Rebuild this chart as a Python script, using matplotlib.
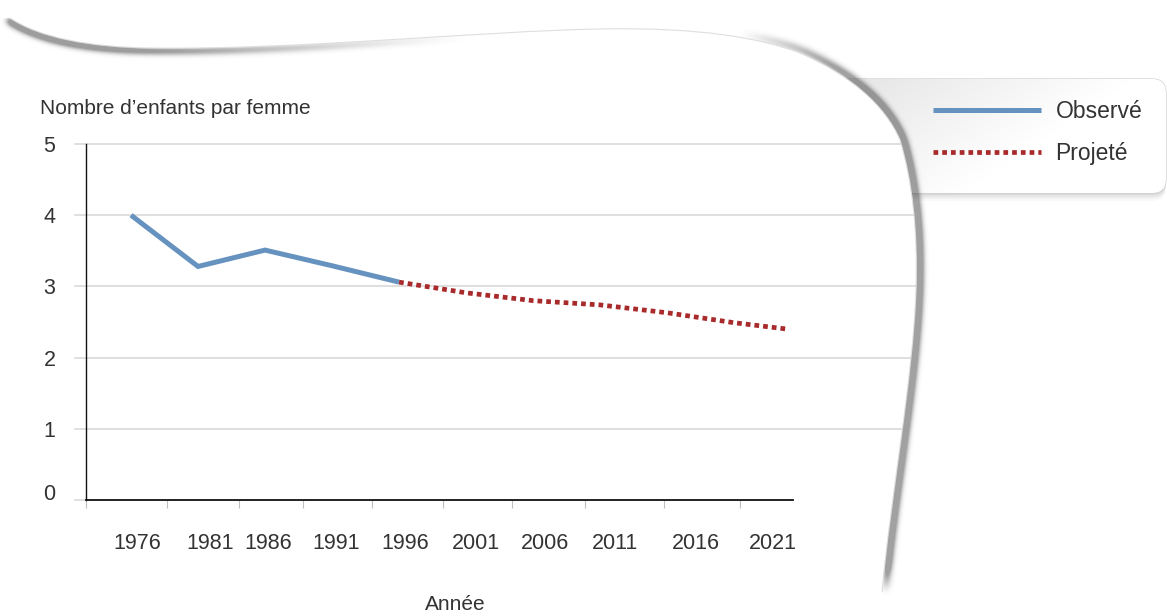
import numpy as np
import matplotlib
matplotlib.use('Agg')
import matplotlib.pyplot as plt
from matplotlib.path import Path
from matplotlib.patches import PathPatch, FancyBboxPatch
from matplotlib.transforms import ScaledTranslation

plt.rcParams['font.family'] = ['Liberation Sans', 'DejaVu Sans']

# ---------------------------------------------------------------------
# Données : indice synthétique de fécondité
# ---------------------------------------------------------------------
annees_obs = [1976, 1981, 1986, 1991, 1996]
valeurs_obs = [4.00, 3.28, 3.51, 3.29, 3.06]

annees_proj = [1996, 2001, 2006, 2011, 2016, 2021, 2025]
valeurs_proj = [3.06, 2.91, 2.80, 2.74, 2.63, 2.49, 2.40]

etiquettes_x = ['1976', '1981', '1986', '1991', '1996',
                '2001', '2006', '2011', '2016', '2021']
pos_etiquettes = [1976.5, 1981.9, 1986.2, 1991.3, 1996.45,
                  2001.75, 2006.9, 2012.1, 2018.15, 2023.9]
pos_graduations = [1972.65, 1978.7, 1984.05, 1988.85, 1994.0,
                   1999.3, 2004.45, 2009.9, 2015.8, 2021.45]
niveaux_y = [0, 1, 2, 3, 4, 5]

BLEU = '#6692bf'
ROUGE = '#a82a2a'
TEXTE = '#333333'
GRILLE = '#d6d6d6'

W, H = 1167, 616
fig = plt.figure(figsize=(W / 100, H / 100), dpi=100)
fig.patch.set_facecolor('white')

# fond en pixels (y vers le bas) pour la feuille et l'encadré de légende
bg = fig.add_axes([0, 0, 1, 1], zorder=0)
bg.set_xlim(0, W)
bg.set_ylim(H, 0)
bg.axis('off')

# bord de la feuille : haut ondulé puis bord droit incurvé
bord_pts = [(10, 18),
            (40, 38), (90, 47), (150, 48),
            (300, 50), (480, 31), (600, 29),
            (700, 27), (760, 38), (800, 53),
            (850, 75), (885, 105), (900, 140),
            (912, 180), (918, 230), (916, 290),
            (913, 380), (890, 500), (882, 592)]
bord_codes = [Path.MOVETO] + [Path.CURVE4] * 18
bord = Path(bord_pts, bord_codes)

feuille = Path(bord_pts + [(878, 616), (0, 616), (0, 18), (10, 18)],
               bord_codes + [Path.LINETO] * 4)


def echantillonner(pts, pas=1.0):
    """Points régulièrement espacés le long des courbes de Bézier."""
    pts = np.asarray(pts, float)
    morceaux = []
    tt = np.linspace(0, 1, 200)[:, None]
    for i in range(0, len(pts) - 1, 3):
        p0, p1, p2, p3 = pts[i:i + 4]
        morceaux.append((1 - tt) ** 3 * p0 + 3 * (1 - tt) ** 2 * tt * p1
                        + 3 * (1 - tt) * tt ** 2 * p2 + tt ** 3 * p3)
    c = np.vstack(morceaux)
    s = np.concatenate([[0], np.cumsum(np.hypot(*np.diff(c, axis=0).T))])
    su = np.arange(0, s[-1], pas)
    c = np.column_stack([np.interp(su, s, c[:, 0]), np.interp(su, s, c[:, 1])])
    tg = np.gradient(c, axis=0)
    tg /= np.hypot(tg[:, 0], tg[:, 1])[:, None]
    n_in = np.column_stack([-tg[:, 1], tg[:, 0]])
    return c, n_in, su / su[-1]


def flou_le_long(c, poids, decalage, sigma):
    champ = np.zeros((H, W))
    r = int(4 * sigma) + 2
    ker = np.arange(-r, r + 1)
    for (x, y), w in zip(c + decalage, poids):
        if w <= 0.002:
            continue
        ix, iy = int(round(x)), int(round(y))
        xs = ix + ker
        ys = iy + ker
        gx = np.exp(-((xs + 0.5 - x) ** 2) / (2 * sigma ** 2))
        gy = np.exp(-((ys + 0.5 - y) ** 2) / (2 * sigma ** 2))
        x0, x1 = max(xs[0], 0), min(xs[-1] + 1, W)
        y0, y1 = max(ys[0], 0), min(ys[-1] + 1, H)
        if x0 >= x1 or y0 >= y1:
            continue
        champ[y0:y1, x0:x1] += w * np.outer(gy[y0 - ys[0]:y1 - ys[0]],
                                            gx[x0 - xs[0]:x1 - xs[0]])
    return champ / (np.sqrt(2 * np.pi) * sigma)


c, n_in, u = echantillonner(bord_pts)

px, py = np.meshgrid(np.arange(W) + 0.5, np.arange(H) + 0.5)
dedans = feuille.contains_points(np.column_stack([px.ravel(), py.ravel()])).reshape(H, W)

# ombre extérieure du bord droit, ombre intérieure du bord supérieur
w_out = np.clip((c[:, 0] - 740) / 140, 0, 1) * np.clip((1 - u) / 0.02, 0, 1)
f_out = flou_le_long(c, w_out, -n_in * 3.5, 3.2)
w_in = np.clip((470 - c[:, 0]) / 420, 0, 1) ** 1.2
f_in = flou_le_long(c, w_in, n_in * 3.0, 3.0)

alpha = np.where(dedans, 0.48 * np.clip(f_in * 1.5, 0, 1),
                 0.46 * np.clip(f_out * 1.6, 0, 1))
ombre = np.zeros((H, W, 4))
ombre[..., :3] = 0.2
ombre[..., 3] = alpha

# encadré de légende (sous la feuille)
for k, a in [(8, 0.04), (6, 0.06), (4, 0.08), (2, 0.11)]:
    bg.add_patch(FancyBboxPatch((830, 79 + k), 336, 114,
                                boxstyle='round,pad=0,rounding_size=14',
                                fc='#707070', ec='none', alpha=a, zorder=1))
boite = FancyBboxPatch((830, 79), 336, 114,
                       boxstyle='round,pad=0,rounding_size=14',
                       fc='white', ec='#cfcfcf', lw=0.9, zorder=1.2)
bg.add_patch(boite)
gx, gy = np.meshgrid(np.linspace(830, 1167, 200), np.linspace(79, 193, 80))
t = np.clip((gx - 880) / 200 * 0.8 + (gy - 80) / 100 * 0.6, 0, 1)
gris = 0.91 + 0.09 * t
img = bg.imshow(np.dstack([gris, gris, gris]), extent=(830, 1167, 193, 79),
                aspect='auto', zorder=1.3, interpolation='bilinear')
img.set_clip_path(boite)

papier = PathPatch(feuille, fc='white', ec='none', zorder=3)
bg.add_patch(papier)
bg.imshow(ombre, extent=(0, W, H, 0), aspect='auto', zorder=4,
          interpolation='nearest')
bg.add_patch(PathPatch(bord, fc='none', ec='#dedede', lw=0.8, zorder=5))
bg.set_xlim(0, W)
bg.set_ylim(H, 0)

# ---------------------------------------------------------------------
# Graphique
# ---------------------------------------------------------------------
ax = fig.add_axes([86 / W, 1 - 500 / H, 707 / W, 356 / H], zorder=2)
ax.patch.set_alpha(0)
ax.set_xlim(1972.64, 2025.4)
ax.set_ylim(0, 5)

for v in niveaux_y:
    x1 = 0 if v == 0 else 1.4
    ax.plot([-0.016, x1], [v, v], transform=ax.get_yaxis_transform(),
            color=GRILLE, lw=1.1, zorder=1, clip_path=papier)

obs, = ax.plot(annees_obs, valeurs_obs, color=BLEU, lw=3.6,
               solid_capstyle='butt', solid_joinstyle='miter', zorder=3,
               label='Observé')
proj, = ax.plot(annees_proj, valeurs_proj, color=ROUGE, lw=3.4,
                linestyle=(0, (1.0, 0.85)), dash_capstyle='butt', zorder=4,
                label='Projeté')

for s in ['top', 'right']:
    ax.spines[s].set_visible(False)
ax.spines['left'].set_linewidth(1.0)
ax.spines['bottom'].set_linewidth(1.3)
ax.spines['left'].set_color('#111111')
ax.spines['bottom'].set_color('#111111')

ax.set_yticks(niveaux_y)
ax.set_yticklabels([str(v) for v in niveaux_y])
ax.tick_params(axis='y', length=0, pad=22, labelsize=15.5, labelcolor=TEXTE)
# le « 0 » est posé un peu au-dessus de l'axe
lbl0 = ax.yaxis.get_major_ticks()[0].label1
lbl0.set_transform(lbl0.get_transform()
                   + ScaledTranslation(0, 0.08, fig.dpi_scale_trans))

ax.set_xticks(pos_etiquettes)
ax.set_xticklabels(etiquettes_x)
ax.set_xticks(pos_graduations, minor=True)
ax.tick_params(axis='x', which='major', length=0, pad=24, labelsize=15.5,
               labelcolor=TEXTE)
ax.tick_params(axis='x', which='minor', length=6, width=0.8, color='#bdbdbd')

fig.text(40 / W, 1 - 108 / H, 'Nombre d’enfants par femme', fontsize=15,
         color=TEXTE, va='center', ha='left')
fig.text(455 / W, 1 - 605 / H, 'Année', fontsize=15, color=TEXTE,
         va='center', ha='center')

ax.legend(handles=[obs, proj], loc='upper left',
          bbox_to_anchor=(933 / W, 1 - 100 / H), bbox_transform=fig.transFigure,
          frameon=False, fontsize=16.5, handlelength=4.7, handletextpad=0.65,
          borderpad=0, borderaxespad=0, labelspacing=0.85,
          labelcolor=TEXTE)

fig.savefig('out.png', dpi=100, facecolor='white')
